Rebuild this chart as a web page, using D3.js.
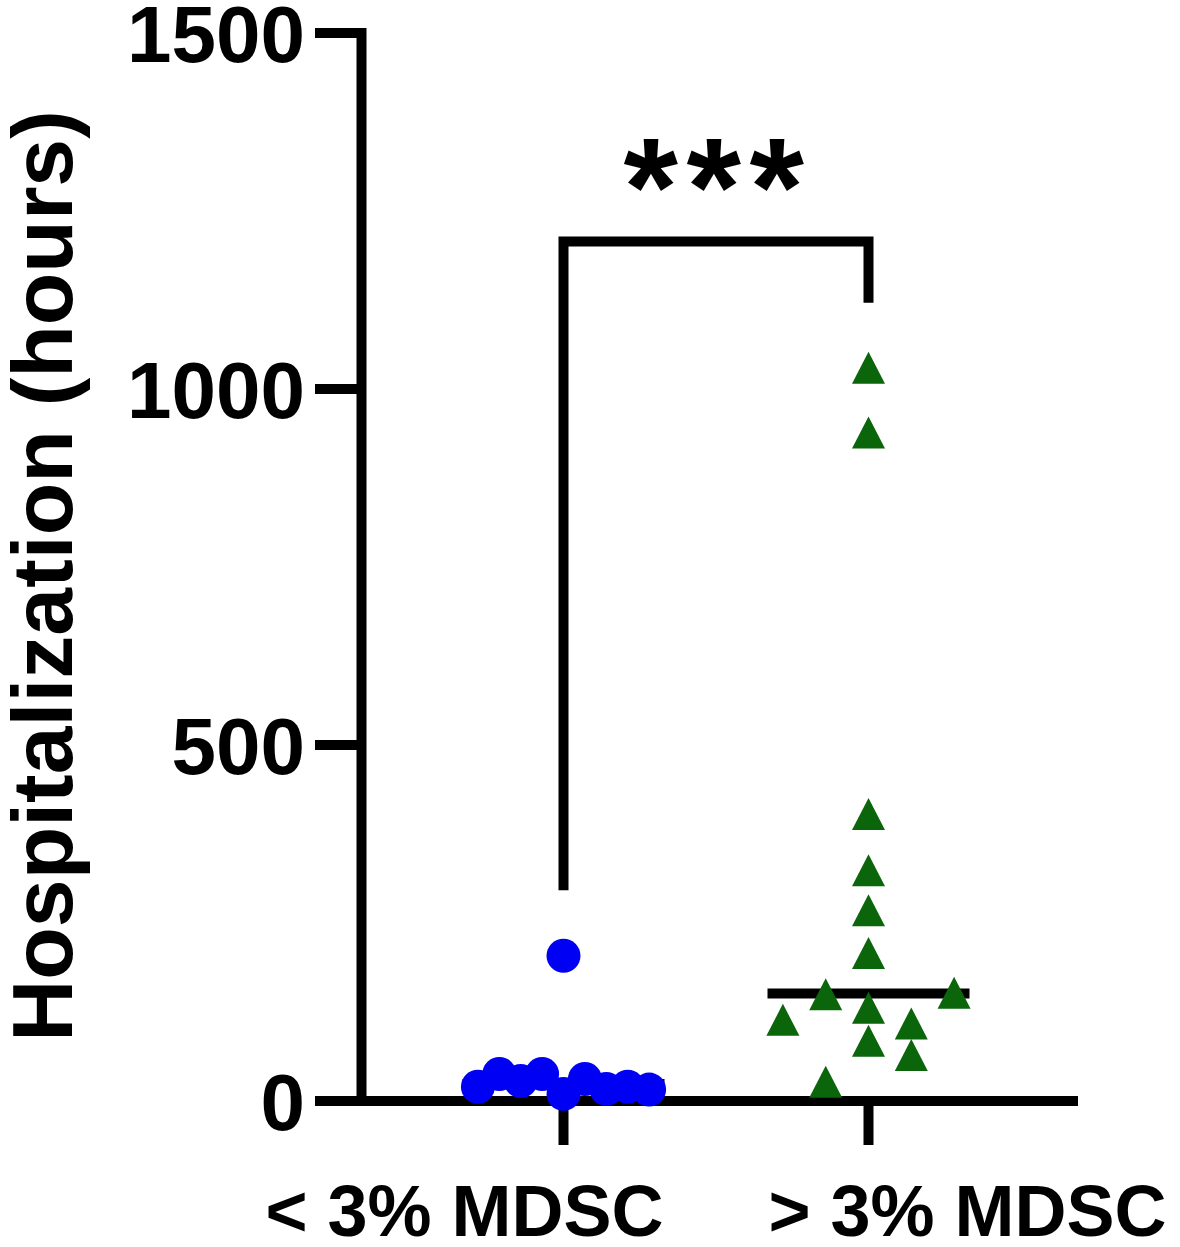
<!DOCTYPE html>
<html>
<head>
<meta charset="utf-8">
<script src="https://cdn.jsdelivr.net/npm/d3@7"></script>
<style>
  html, body { margin: 0; padding: 0; background: #fff; }
  svg { display: block; }
  text { font-family: "Liberation Sans", Arial, sans-serif; font-weight: bold; fill: #000; }
</style>
</head>
<body>
<svg id="chart" width="1180" height="1247"></svg>
<script>
// ---- data ----
const categories = ["< 3% MDSC", "> 3% MDSC"];
const yTicks = [0, 500, 1000, 1500];
const yTitle = "Hospitalization (hours)";

// group 1 (< 3% MDSC): hours and scatter lane
const lowValues = [204, 20, 38, 28, 38, 10, 31, 17, 20, 16];
const lowLanes  = [0, -4, -3, -2, -1, 0, 1, 2, 3, 4];

// group 2 (> 3% MDSC): hours and scatter lane
const highValues = [1030, 939, 403, 324, 268, 208, 150, 131, 152, 114, 109, 84.5, 64.6, 27];
const highLanes  = [0, 0, 0, 0, 0, 0, -2, 0, 4, -4, 2, 0, 2, -2];

// significance bracket (in data units)
const bracketTop = 1207;
const bracketLeftEnd = 296;
const bracketRightEnd = 1121;
const sigLabel = "***";

// ---- layout ----
const svg = d3.select("#chart");
const axisX = 361.5, axisY = 1101, axisTopY = 33;
const lw = 10;
const laneStep = 21.4;

const y = d3.scaleLinear().domain([0, 1500]).range([axisY, axisTopY]);
const x = d3.scalePoint().domain(categories).range([563.5, 868.5]);

const median = arr => d3.median(arr);

// median lines (behind points)
const groups = [
  { cat: categories[0], values: lowValues, lanes: lowLanes },
  { cat: categories[1], values: highValues, lanes: highLanes }
];
groups.forEach(g => {
  svg.append("line")
    .attr("x1", x(g.cat) - 101).attr("x2", x(g.cat) + 101)
    .attr("y1", y(median(g.values))).attr("y2", y(median(g.values)))
    .attr("stroke", "#000").attr("stroke-width", lw);
});

// axes
svg.append("path")
  .attr("d", `M315,${y(1500)}H${axisX}V${axisY}`)
  .attr("fill", "none").attr("stroke", "#000").attr("stroke-width", lw)
  .attr("stroke-linejoin", "miter");
svg.append("line")
  .attr("x1", 315).attr("x2", 1078).attr("y1", axisY).attr("y2", axisY)
  .attr("stroke", "#000").attr("stroke-width", lw);

yTicks.forEach(t => {
  svg.append("line")
    .attr("x1", 315).attr("x2", axisX)
    .attr("y1", y(t)).attr("y2", y(t))
    .attr("stroke", "#000").attr("stroke-width", lw);
  svg.append("text")
    .attr("x", 305).attr("y", y(t) + 29)
    .attr("text-anchor", "end")
    .attr("font-size", 80)
    .text(t);
});

categories.forEach((c, i) => {
  svg.append("line")
    .attr("x1", x(c)).attr("x2", x(c))
    .attr("y1", axisY).attr("y2", 1145)
    .attr("stroke", "#000").attr("stroke-width", lw);
  svg.append("text")
    .attr("x", i === 0 ? x(c) + 100 : x(c) - 100)
    .attr("y", 1236)
    .attr("text-anchor", i === 0 ? "end" : "start")
    .attr("font-size", 72)
    .text(c);
});

// y title
svg.append("text")
  .attr("transform", `translate(72,${576}) rotate(-90)`)
  .attr("text-anchor", "middle")
  .attr("font-size", 86)
  .text(yTitle);

// points: group 1 circles
svg.append("g").selectAll("circle")
  .data(lowValues.map((v, i) => ({ v, lane: lowLanes[i] })))
  .join("circle")
  .attr("cx", d => x(categories[0]) + d.lane * laneStep)
  .attr("cy", d => y(d.v))
  .attr("r", 17)
  .attr("fill", "#0000f5");

// points: group 2 triangles
const triW = 33, triH = 32;
const triPath = (() => {
  const p = d3.path();
  p.moveTo(0, -triH / 2);
  p.lineTo(triW / 2, triH / 2);
  p.lineTo(-triW / 2, triH / 2);
  p.closePath();
  return p.toString();
})();
svg.append("g").selectAll("path")
  .data(highValues.map((v, i) => ({ v, lane: highLanes[i] })))
  .join("path")
  .attr("d", triPath)
  .attr("transform", d => `translate(${x(categories[1]) + d.lane * laneStep},${y(d.v)})`)
  .attr("fill", "#0b650b");

// significance bracket
svg.append("path")
  .attr("d", `M${x(categories[0])},${y(bracketLeftEnd)}V${y(bracketTop)}H${x(categories[1])}V${y(bracketRightEnd)}`)
  .attr("fill", "none").attr("stroke", "#000").attr("stroke-width", lw)
  .attr("stroke-linejoin", "miter");

svg.append("text")
  .attr("x", 718)
  .attr("y", 235)
  .attr("text-anchor", "middle")
  .attr("font-size", 140)
  .attr("letter-spacing", 8.5)
  .text(sigLabel);
</script>
</body>
</html>
